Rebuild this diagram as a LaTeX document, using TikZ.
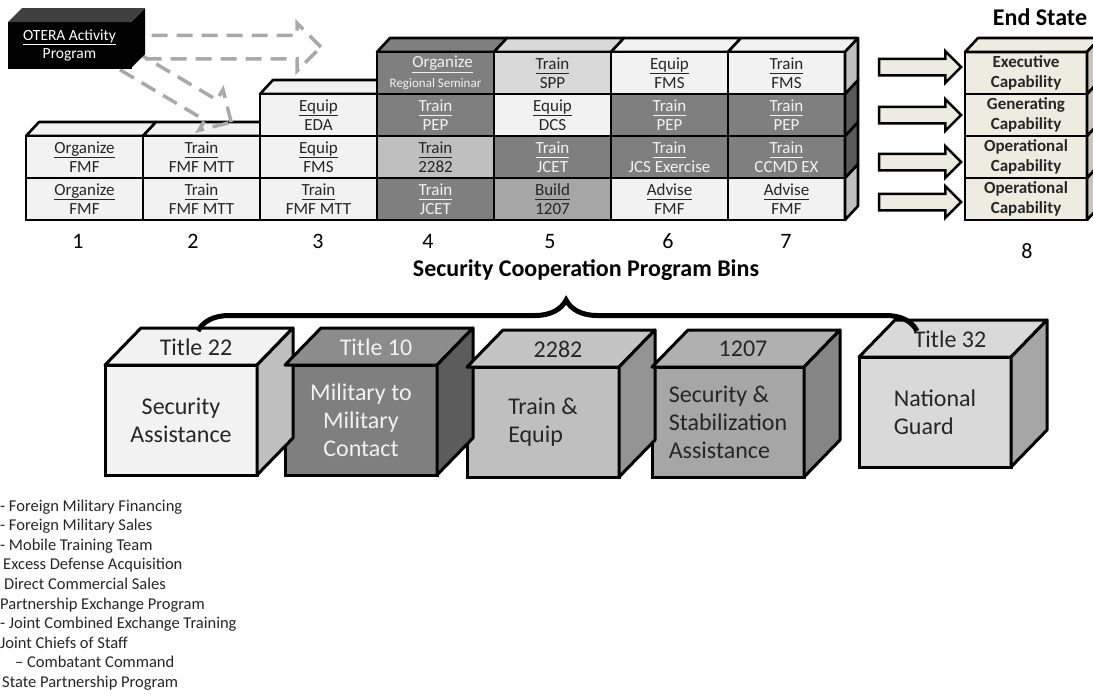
\documentclass[tikz,border=0pt]{standalone}
\usepackage{fontspec}
\setmainfont{Carlito}
\usetikzlibrary{shapes.arrows,decorations.pathreplacing,calc}
\definecolor{lite}{HTML}{F2F2F2}
\definecolor{dark}{HTML}{7F7F7F}
\definecolor{mid}{HTML}{BFBFBF}
\definecolor{spp}{HTML}{D9D9D9}
\definecolor{bld}{HTML}{A6A6A6}
\definecolor{sidedk}{HTML}{595959}
\definecolor{beige}{HTML}{EEECE1}
\definecolor{esside}{HTML}{C6C6BE}
\definecolor{ink}{HTML}{262626}
\definecolor{dashgray}{HTML}{A9A9A9}
\definecolor{oteratop}{HTML}{404040}
\definecolor{toptn}{HTML}{8C8C8C}
\definecolor{sideten}{HTML}{5C5C5C}
\definecolor{toptt}{HTML}{C4C4C4}
\definecolor{sidett}{HTML}{939393}
\definecolor{topst}{HTML}{B0B0B0}
\definecolor{sidest}{HTML}{858585}
\newcommand{\fsz}[2]{\fontsize{#1}{#2}\selectfont}
\newcommand{\uword}[1]{\underline{#1\vphantom{g}}}

\begin{document}
\begin{tikzpicture}[x=1pt,y=-1pt,
	cell/.style={draw,line width=2.6pt,minimum width=117pt,minimum height=42pt,inner sep=0pt,outer sep=0pt,align=center,font=\fsz{17}{19.5}},
	face/.style={draw,line width=2.6pt,line join=round},
	cube/.style={draw,line width=3pt,minimum width=152pt,minimum height=110pt,inner sep=0pt,outer sep=0pt,font=\fsz{24}{28}},
	bigarrow/.style={single arrow,draw,line width=2.5pt,fill=beige,minimum height=82pt,inner sep=0pt,inner ysep=7pt,single arrow head extend=7.5pt},
	dasharrow/.style={single arrow,draw=dashgray,line width=3.5pt,dash pattern=on 16pt off 9pt,inner sep=0pt,inner ysep=10pt,single arrow head extend=12pt},
	num/.style={anchor=base,font=\fsz{22}{26}}]
\useasboundingbox (0,0) rectangle (1093,694);

% program bins, top faces first
\foreach \col/\hh/\fc in {1/2/lite,2/2/lite,3/3/lite,4/4/dark,5/4/spp,6/4/lite,7/4/lite}
	\draw[face,fill=\fc] ({26+117*(\col-1)},{220-42*\hh}) -- ++(13,-14) -- ++(117,0) -- ++(-13,14) -- cycle;

\foreach \col/\row/\fc/\tc/\wa/\wb in {
	1/1/lite/ink/Organize/FMF, 1/2/lite/ink/Organize/FMF,
	2/1/lite/ink/Train/FMF MTT, 2/2/lite/ink/Train/FMF MTT,
	3/1/lite/ink/Train/FMF MTT, 3/2/lite/ink/Equip/FMS, 3/3/lite/ink/Equip/EDA,
	4/1/dark/lite/Train/JCET, 4/2/mid/ink/Train/2282, 4/3/dark/lite/Train/PEP,
	5/1/bld/ink/Build/1207, 5/2/dark/lite/Train/JCET, 5/3/lite/ink/Equip/DCS, 5/4/spp/ink/Train/SPP,
	6/1/lite/ink/Advise/FMF, 6/2/dark/lite/Train/JCS Exercise, 6/3/dark/lite/Train/PEP, 6/4/lite/ink/Equip/FMS,
	7/1/lite/ink/Advise/FMF, 7/2/dark/lite/Train/CCMD EX, 7/3/dark/lite/Train/PEP, 7/4/lite/ink/Train/FMS}
	\node[cell,fill=\fc,text=\tc] (c\col-\row) at ({84.5+117*(\col-1)},{199-42*(\row-1)}) {\uword{\wa}\\\wb};
\node[cell,fill=dark,text=lite] (c4-4) at (435.5,73) {\hspace*{14pt}\uword{Organize}\\{\fsz{13}{15}Regional Seminar}};

\foreach \row/\fc in {1/mid,2/sidedk,3/sidedk,4/mid}
	\draw[face,fill=\fc] (c7-\row.north east) -- ++(13,-14) -- ++(0,42) -- (c7-\row.south east) -- cycle;

\foreach \col/\xx in {1/78,2/193,3/318,4/428,5/550,6/668,7/786}
	\node[num] (n\col) at (\xx,248) {\col};
\node[font=\bfseries\fsz{24}{28}] (bins) at (586,270) {Security Cooperation Program Bins};

% end state
\node[font=\bfseries\fsz{24}{28}] (endst) at (1040,17) {End State};
\foreach \row/\wa in {4/Executive,3/Generating,2/Operational,1/Operational}
	\node[cell,minimum width=122pt,fill=beige,text=ink,font=\bfseries\fsz{17}{20}] (es\row) at (1026,{199-42*(\row-1)}) {\wa\\Capability};
\draw[face,fill=beige] (es4.north west) -- ++(13,-14) -- ++(122,0) -- (es4.north east) -- cycle;
\foreach \row in {1,...,4}
	\draw[face,fill=esside] (es\row.north east) -- ++(13,-14) -- ++(0,42) -- (es\row.south east) -- cycle;
\node[num] (n8) at (1027,258) {8};

\foreach \row/\yy in {4/67,3/115,2/162,1/202}
	\node[bigarrow] (ar\row) at (916,\yy) {};

% OTERA box and its dashed arrows
\node[dasharrow,minimum height=190pt] (dh) at (220,47) {};
\node[dasharrow,minimum height=126pt,rotate=-30.7] (dd) at (172,87) {};
\node[draw,line width=1pt,fill=black,text=white,minimum width=123pt,minimum height=46pt,inner sep=0pt,outer sep=0pt,align=center,font=\fsz{15.5}{18}] (otera) at (69.5,45) {\underline{OTERA Activity}\\Program};
\fill[black] (otera.north east) -- ++(14,-14) -- ++(0,46) -- (otera.south east) -- cycle;
\fill[oteratop] (otera.north west) -- ++(14,-14) -- ++(123,0) -- (otera.north east) -- cycle;

% title cubes
\node[cube,fill=lite,text=ink,align=center] (t22) at (181,420) {Security\\Assistance};
\node[cube,fill=dark,text=lite,align=center] (t10) at (361,420) {Military to\\Military\\Contact};
\node[cube,fill=mid,text=ink,align=left] (s2282) at (543,422) {Train \&\\Equip};
\node[cube,fill=bld,text=ink,align=left] (s1207) at (728,422) {Security \&\\Stabilization\\Assistance};
\node[cube,fill=spp,text=ink,align=left] (t32) at (935,412) {National\\Guard};
\foreach \nn/\tp/\sd/\lab/\tc in {t22/lite/mid/Title 22/ink, t10/toptn/sideten/Title 10/lite, s2282/toptt/sidett/2282/ink, s1207/topst/sidest/1207/ink, t32/spp/bld/Title 32/ink} {
	\draw[face,line width=3pt,fill=\tp] (\nn.north west) -- ++(36,-37) -- ++(152,0) -- (\nn.north east) -- cycle;
	\draw[face,line width=3pt,fill=\sd] (\nn.north east) -- ++(36,-37) -- ++(0,110) -- (\nn.south east) -- cycle;
	\node[font=\fsz{24}{28},text=\tc] (\nn-lbl) at ($(\nn.north)+(15,-18)$) {\lab};
}
\coordinate (brL) at (198,331); \coordinate (brR) at (917,331);
\draw[line width=5pt,decorate,decoration={brace,amplitude=31pt,aspect=0.512}] (brL) -- (brR);

% legend
\foreach \i/\xx/\txt in {1/0/- Foreign Military Financing, 2/0/- Foreign Military Sales, 3/0/- Mobile Training Team,
	4/3/Excess Defense Acquisition, 5/4/Direct Commercial Sales, 6/0/Partnership Exchange Program,
	7/0/- Joint Combined Exchange Training, 8/0/Joint Chiefs of Staff, 9/15/– Combatant Command, 10/2/State Partnership Program}
	\node[anchor=base west,inner sep=0pt,font=\fsz{16.5}{20},text=ink] (lg\i) at (\xx,{511+19.6*(\i-1)}) {\txt};
\end{tikzpicture}
\end{document}
